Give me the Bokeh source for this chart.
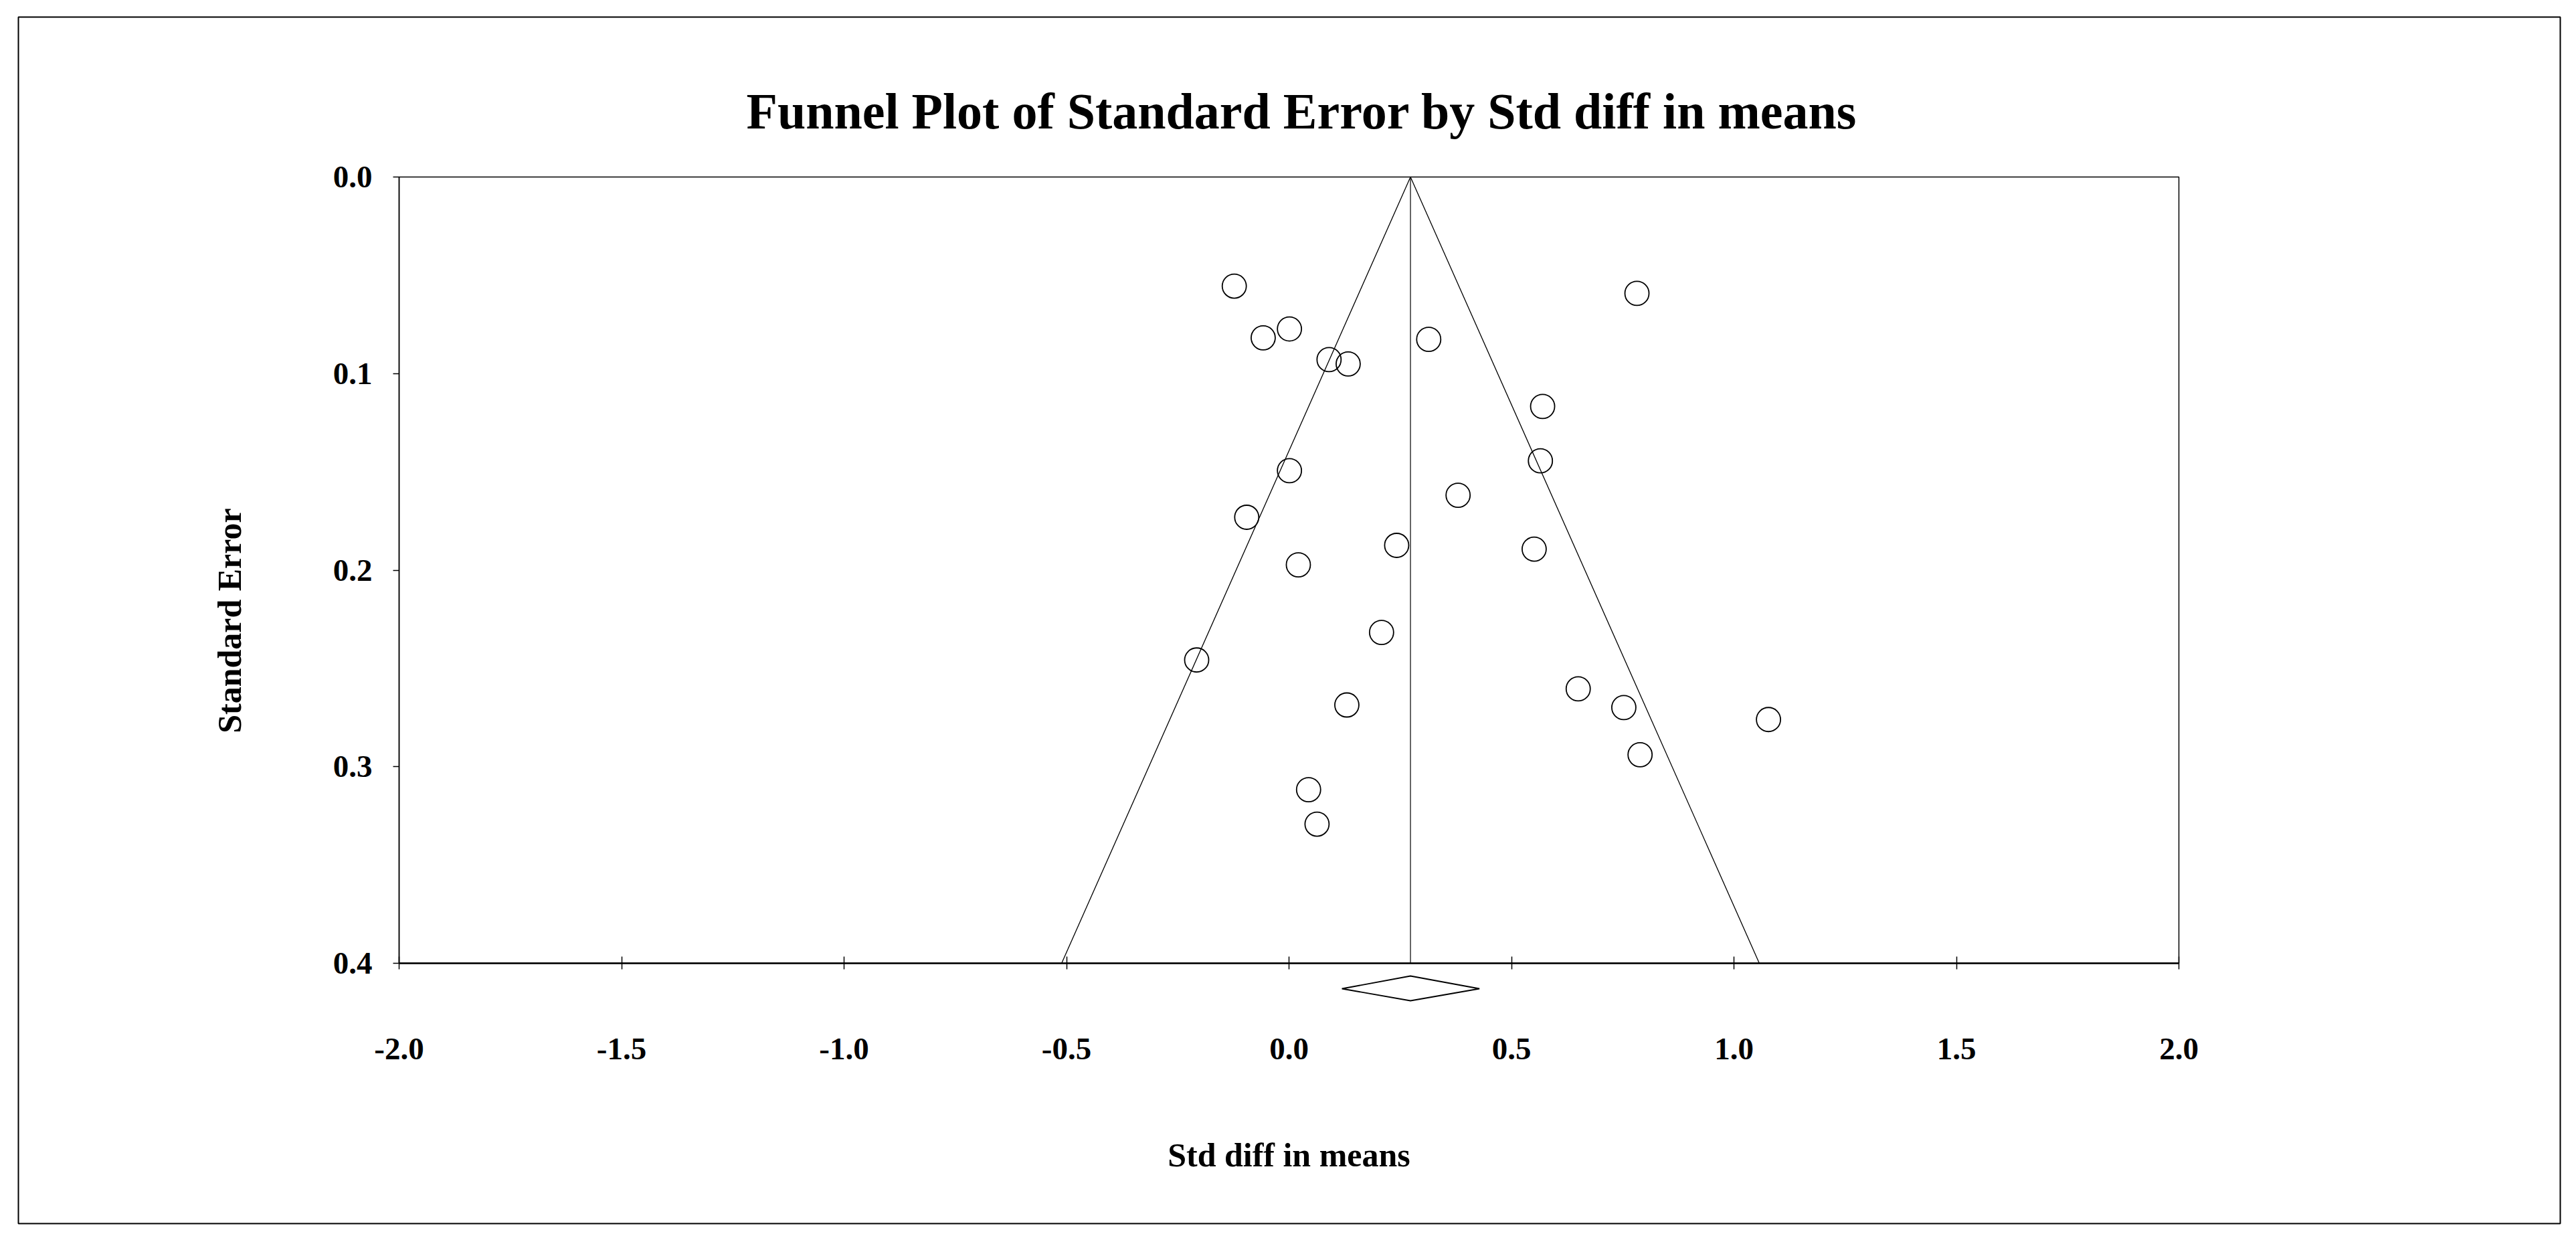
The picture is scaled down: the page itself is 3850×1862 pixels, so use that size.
from math import pi
from bokeh.plotting import figure
from bokeh.models import Range1d, FixedTicker, NumeralTickFormatter
from bokeh.core.properties import value
from bokeh.embed import file_html
from bokeh.resources import INLINE

# ---- data ----
std_diff = [-0.123, 0.782, 0.001, -0.058, 0.314, 0.090, 0.133, 0.570, 0.565, 0.001,
            0.380, -0.095, 0.242, 0.551, 0.021, 0.208, -0.2075, 0.650, 0.130, 0.7525,
            1.0776, 0.789, 0.044, 0.063]
std_err = [0.0555, 0.0592, 0.0773, 0.0818, 0.0826, 0.0929, 0.0951, 0.1167, 0.1444, 0.1494,
           0.1619, 0.1731, 0.1874, 0.1893, 0.1973, 0.2317, 0.2457, 0.2604, 0.2686, 0.2699,
           0.2760, 0.2939, 0.3117, 0.3292]
summary_mean = 0.273
summary_ci = [0.119, 0.428]
x_ticks = [-2.0, -1.5, -1.0, -0.5, 0.0, 0.5, 1.0, 1.5, 2.0]
y_ticks = [0.0, 0.1, 0.2, 0.3, 0.4]

FONT = "Liberation Serif"
W, H = 3834, 1846
FL, FR, FT, FB = 596, 3256, 264, 1439   # frame edges in canvas pixels

p = figure(width=W, height=H,
           x_range=Range1d(x_ticks[0], x_ticks[-1]),
           y_range=Range1d(y_ticks[-1], y_ticks[0]),
           output_backend="svg", toolbar_location=None,
           min_border_left=FL, min_border_right=W - FR,
           min_border_top=FT, min_border_bottom=H - FB,
           title="Funnel Plot of Standard Error by Std diff in means")

# helpers converting canvas pixels to data units (for decorations outside the frame)
def px_to_x(px):
    return x_ticks[0] + (px - FL) * (x_ticks[-1] - x_ticks[0]) / (FR - FL)

def px_to_y(py):
    return y_ticks[0] + (py - FT) * (y_ticks[-1] - y_ticks[0]) / (FB - FT)

p.background_fill_color = "white"
p.border_fill_color = "white"
p.grid.visible = False
p.outline_line_color = "black"
p.outline_line_width = 1.5

p.title.text_font = FONT
p.title.text_font_size = "76px"
p.title.text_font_style = "bold"
p.title.text_color = "black"
p.title.align = "left"
p.title.offset = 519
p.title.standoff = 113

# x axis
xa = p.xaxis[0]
xa.ticker = FixedTicker(ticks=x_ticks)
xa.formatter = NumeralTickFormatter(format="0.0")
xa.axis_line_width = 2.5
xa.axis_line_color = "black"
xa.major_tick_in = 10
xa.major_tick_out = 9
xa.major_tick_line_width = 1.5
xa.major_tick_line_color = "black"
xa.minor_tick_line_color = None
xa.major_label_standoff = 103
xa.major_label_text_font = FONT
xa.major_label_text_font_size = "47px"
xa.major_label_text_font_style = "bold"
xa.major_label_text_color = "black"
xa.axis_label = "Std diff in means"
xa.axis_label_standoff = 112
xa.axis_label_text_font = FONT
xa.axis_label_text_font_size = "50px"
xa.axis_label_text_font_style = "bold"
xa.axis_label_text_color = "black"

# y axis
ya = p.yaxis[0]
ya.ticker = FixedTicker(ticks=y_ticks)
ya.formatter = NumeralTickFormatter(format="0.0")
ya.axis_line_width = 1.5
ya.axis_line_color = "black"
ya.major_tick_in = 0
ya.major_tick_out = 9
ya.major_tick_line_width = 1.5
ya.major_tick_line_color = "black"
ya.minor_tick_line_color = None
ya.major_label_standoff = 31
ya.major_label_text_font = FONT
ya.major_label_text_font_size = "47px"
ya.major_label_text_font_style = "bold"
ya.major_label_text_color = "black"

# y axis title (drawn as a glyph so it can sit off-centre like the reference)
yt = p.text(x=[px_to_x(342)], y=[px_to_y(927)], text=["Standard Error"],
            angle=pi / 2, text_align="center", text_baseline="middle",
            text_font=value(FONT), text_font_size="50px", text_font_style="bold",
            text_color="black")
yt.level = "overlay"

# funnel (pseudo 95% limits) and summary line
se_max = y_ticks[-1]
p.line(x=[summary_mean - 1.96 * se_max, summary_mean, summary_mean + 1.96 * se_max],
       y=[se_max, 0.0, se_max], line_color="black", line_width=1.3)
p.segment(x0=[summary_mean], y0=[0.0], x1=[summary_mean], y1=[se_max],
          line_color="black", line_width=1.2)

# studies
p.scatter(x=std_diff, y=std_err, marker="circle", size=36,
          fill_color=None, line_color="black", line_width=1.8)

# summary diamond below the axis
d_top, d_mid, d_bot = px_to_y(1458), px_to_y(1477), px_to_y(1495)
dr = p.patch(x=[summary_ci[0], summary_mean, summary_ci[1], summary_mean],
             y=[d_mid, d_top, d_mid, d_bot],
             fill_color="white", line_color="black", line_width=1.8)
dr.level = "overlay"

# outer frame
ob = p.quad(left=[px_to_x(27)], right=[px_to_x(3826)],
            top=[px_to_y(25)], bottom=[px_to_y(1828)],
            fill_color=None, line_color="black", line_width=2)
ob.level = "overlay"

open("out.html", "w").write(file_html(p, INLINE))
